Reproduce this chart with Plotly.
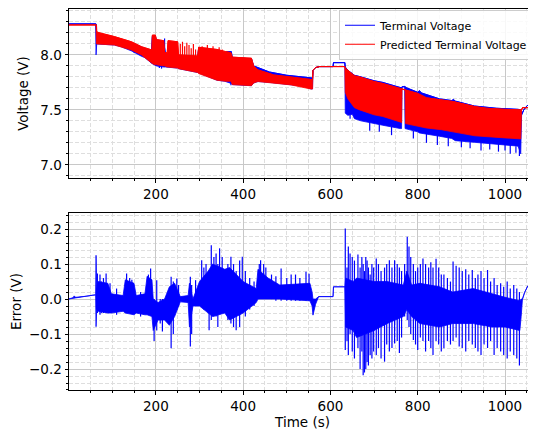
import plotly.graph_objects as go
from plotly.subplots import make_subplots

# Terminal (measured) voltage: envelope of the dense signal (time s, upper V, lower V)
meas_t = [0, 62, 63, 64.5, 80, 105, 120, 145, 166, 175, 190, 192, 199, 201, 218, 222, 250, 252,
          296, 298, 340, 358, 362, 373, 375, 419, 424, 434, 460, 500, 540, 556, 559, 560, 566,
          575, 606, 607, 633, 634, 640, 650, 655, 670, 700, 720, 760, 763, 764, 770, 771, 775,
          800, 804, 808, 850, 878, 882, 886, 930, 980, 1030, 1036, 1038, 1043, 1050, 1055, 1071]
meas_hi = [8.282, 8.282, 8.282, 8.19, 8.17, 8.15, 8.13, 8.11, 8.07, 8.06, 8.03, 8.17, 8.17, 8.13,
           8.12, 8.01, 8.00, 7.99, 7.98, 8.06, 8.04, 8.02, 8.03, 8.03, 7.975, 7.965, 7.90, 7.885,
           7.845, 7.815, 7.80, 7.79, 7.79, 7.86, 7.885, 7.894, 7.894, 7.93, 7.93, 7.89, 7.86, 7.83,
           7.815, 7.80, 7.765, 7.75, 7.705, 7.70, 7.71, 7.715, 7.71, 7.70, 7.66, 7.675, 7.655,
           7.60, 7.585, 7.595, 7.58, 7.535, 7.515, 7.505, 7.50, 7.455, 7.50, 7.535, 7.55, 7.55]
meas_lo = [8.282, 8.282, 8.00, 8.10, 8.10, 8.09, 8.075, 8.035, 7.99, 7.975, 7.925, 7.92, 7.905,
           7.90, 7.89, 7.89, 7.88, 7.875, 7.84, 7.83, 7.77, 7.76, 7.76, 7.74, 7.73, 7.72, 7.745,
           7.758, 7.75, 7.735, 7.715, 7.69, 7.69, 7.86, 7.885, 7.894, 7.894, 7.93, 7.93, 7.47,
           7.45, 7.46, 7.42, 7.40, 7.375, 7.36, 7.33, 7.33, 7.71, 7.715, 7.33, 7.32, 7.30, 7.29,
           7.29, 7.26, 7.24, 7.23, 7.22, 7.205, 7.19, 7.17, 7.10, 7.455, 7.50, 7.535, 7.55, 7.55]

# isolated spikes of the measured voltage (time, top, bottom)
meas_spikes = [
    (150, 8.05, 8.02), (158, 8.04, 8.02), (208, 7.91, 7.88), (213, 7.91, 7.875), (220, 8.15, 7.95),
    (372, 7.76, 7.725), (645, 7.46, 7.42), (690, 7.39, 7.31), (712, 7.37, 7.30), (740, 7.35, 7.27),
    (790, 7.31, 7.24), (820, 7.29, 7.20), (845, 7.27, 7.18), (870, 7.25, 7.17), (900, 7.24, 7.16),
    (920, 7.22, 7.15), (945, 7.21, 7.13), (965, 7.20, 7.14), (985, 7.20, 7.12), (1000, 7.19, 7.13),
    (1012, 7.18, 7.10), (1025, 7.17, 7.11), (1033, 7.17, 7.08),
]

# Predicted terminal voltage envelope
pred_t = [0, 63, 64, 64.5, 72, 105, 144, 167, 191, 192, 199, 201, 218, 220, 226, 228, 250, 252,
          296, 298, 340, 360, 372, 375, 419, 424, 434, 470, 510, 555, 559, 560, 566, 575, 633,
          634, 640, 655, 667, 700, 720, 760, 763, 764, 771, 772, 800, 820, 854, 881, 931, 958,
          1000, 1036, 1038, 1040, 1071]
pred_hi = [8.273, 8.273, 8.273, 8.21, 8.20, 8.167, 8.12, 8.075, 8.045, 8.18, 8.18, 8.14, 8.13,
           8.02, 8.02, 8.13, 8.12, 8.00, 7.99, 8.07, 8.05, 8.03, 8.02, 7.98, 7.97, 7.90, 7.864,
           7.818, 7.80, 7.775, 7.775, 7.86, 7.885, 7.894, 7.894, 7.88, 7.86, 7.81, 7.80, 7.758,
           7.74, 7.697, 7.69, 7.69, 7.68, 7.68, 7.65, 7.61, 7.59, 7.576, 7.53, 7.515, 7.505, 7.50,
           7.50, 7.52, 7.52]
pred_lo = [8.273, 8.273, 8.10, 8.10, 8.10, 8.09, 8.045, 8.00, 7.925, 7.92, 7.91, 7.91, 7.90,
           7.90, 7.89, 7.89, 7.88, 7.875, 7.84, 7.83, 7.77, 7.76, 7.76, 7.73, 7.72, 7.745, 7.758,
           7.742, 7.727, 7.69, 7.69, 7.86, 7.885, 7.894, 7.894, 7.66, 7.60, 7.52, 7.50, 7.455,
           7.44, 7.39, 7.385, 7.69, 7.68, 7.375, 7.35, 7.335, 7.32, 7.30, 7.264, 7.255, 7.245,
           7.236, 7.50, 7.52, 7.52]

pred_spikes = [
    (256, 8.10, 7.95), (261, 8.12, 7.95), (266, 8.08, 7.95), (271, 8.11, 7.94), (276, 8.09, 7.94),
    (281, 8.06, 7.94), (286, 8.10, 7.93), (291, 8.05, 7.93), (306, 8.08, 7.90), (318, 8.09, 7.90),
    (331, 8.08, 7.88), (345, 8.07, 7.86), (352, 8.05, 7.86),
]

# Error envelope
err_t = [0, 10, 13, 16, 40, 55, 62, 63, 64.5, 68, 90, 98, 125, 130, 150, 155, 175, 180, 191, 194,
         205, 220, 231, 243, 256, 274, 277, 285, 300, 320, 330, 358, 369, 400, 430, 434, 457, 484,
         553, 558, 560, 566, 573, 606, 607, 633,
         635, 652, 660, 700, 730, 767, 775, 786, 805, 850, 880, 927, 970, 1000, 1034,
         1037, 1040, 1045, 1052, 1071]
err_hi = [0.0, 0.004, 0.009, 0.005, 0.008, 0.011, 0.012, 0.125, 0.03, 0.05, 0.045, 0.015, 0.01,
          0.055, 0.045, 0.01, 0.015, 0.065, 0.055, 0.0, -0.01, 0.0, 0.035, 0.045, 0.007, 0.01,
          0.045, 0.0, 0.05, 0.08, 0.10, 0.085, 0.09, 0.05, 0.03, 0.085, 0.06, 0.04,
          0.045, 0.02, 0.0, 0.0, 0.007, 0.007, 0.035, 0.035,
          0.06, 0.05, 0.06, 0.05, 0.05, 0.04, 0.08, 0.04, 0.045, 0.035, 0.02, 0.03, 0.015, 0.005,
          -0.005,
          0.0, 0.0, 0.019, 0.037, 0.037]
err_lo = [0.0, 0.004, 0.003, 0.005, 0.008, 0.011, 0.012, -0.079, -0.03, -0.035, -0.04, -0.04,
          -0.035, -0.04, -0.045, -0.04, -0.045, -0.045, -0.05, -0.09, -0.06, -0.06, -0.075, -0.05,
          -0.008, -0.01, -0.08, -0.02, -0.02, -0.04, -0.05, -0.04, -0.06, -0.04, -0.01, 0.0, 0.0,
          0.0, -0.005, -0.02, -0.046, -0.015, 0.007, 0.007, 0.035, 0.035,
          -0.08, -0.09, -0.11, -0.09, -0.07, -0.05, -0.03, -0.05, -0.07, -0.08, -0.07, -0.07,
          -0.08, -0.08, -0.09,
          -0.05, 0.0, 0.019, 0.037, 0.037]

err_spikes = [
    (66, 0.073, -0.04), (72, 0.07, -0.045), (75, 0.05, -0.04), (80, 0.06, -0.04), (86, 0.073, -0.04),
    (95, 0.045, -0.04), (110, 0.03, -0.045), (133, 0.073, -0.04), (140, 0.06, -0.04),
    (145, 0.055, -0.035), (165, 0.02, -0.05), (183, 0.07, -0.045), (188, 0.087, -0.04),
    (196, 0.0, -0.12), (202, 0.054, -0.09), (210, 0.0, -0.07), (215, 0.0, -0.093),
    (235, 0.064, -0.141), (240, 0.05, -0.10), (248, 0.059, -0.03), (252, 0.04, -0.02),
    (279, 0.064, -0.136), (282, 0.04, -0.10), (291, 0.054, -0.02), (305, 0.111, -0.017),
    (310, 0.09, -0.03), (315, 0.10, -0.03), (322, 0.05, -0.089), (327, 0.154, -0.06),
    (333, 0.12, -0.05), (338, 0.13, -0.05), (342, 0.10, -0.08), (346, 0.145, -0.04),
    (352, 0.12, -0.04), (365, 0.10, -0.06), (372, 0.121, -0.07), (378, 0.10, -0.08),
    (384, 0.08, -0.089), (392, 0.11, -0.08), (398, 0.121, -0.04), (405, 0.08, -0.05),
    (415, 0.06, -0.03), (425, 0.05, -0.02), (437, 0.10, 0.0), (440, 0.111, 0.0), (447, 0.10, 0.0),
    (452, 0.09, 0.0), (465, 0.07, 0.0), (475, 0.065, -0.005), (487, 0.087, -0.005),
    (500, 0.06, -0.005), (510, 0.07, -0.005), (520, 0.07, -0.005), (530, 0.06, -0.005),
    (544, 0.078, -0.005), (551, 0.072, -0.005),
    (634, 0.202, -0.146), (638, 0.09, -0.12), (641, 0.15, -0.16), (645, 0.13, -0.10),
    (650, 0.12, -0.15), (655, 0.11, -0.17), (663, 0.127, -0.14), (668, 0.09, -0.20),
    (672, 0.12, -0.15), (675, 0.10, -0.218), (678, 0.08, -0.21), (681, 0.12, -0.20),
    (684, 0.11, -0.18), (687, 0.09, -0.19), (691, 0.07, -0.16), (695, 0.10, -0.17),
    (699, 0.09, -0.15), (705, 0.116, -0.16), (710, 0.10, -0.14), (716, 0.08, -0.17),
    (724, 0.09, -0.179), (729, 0.10, -0.13), (735, 0.111, -0.15), (741, 0.09, -0.14),
    (747, 0.111, -0.127), (753, 0.10, -0.12), (758, 0.09, -0.154), (763, 0.08, -0.11),
    (770, 0.10, -0.05), (776, 0.178, -0.06), (780, 0.15, -0.08), (784, 0.12, -0.10),
    (790, 0.10, -0.117), (795, 0.08, -0.13), (800, 0.09, -0.146), (806, 0.10, -0.11),
    (812, 0.116, -0.12), (818, 0.10, -0.15), (825, 0.09, -0.12), (830, 0.105, -0.14),
    (835, 0.09, -0.16), (842, 0.115, -0.12), (848, 0.09, -0.13), (854, 0.07, -0.15),
    (860, 0.07, -0.141), (868, 0.06, -0.12), (875, 0.05, -0.13), (881, 0.107, -0.12),
    (888, 0.095, -0.11), (895, 0.09, -0.136), (902, 0.08, -0.14), (910, 0.085, -0.15),
    (917, 0.07, -0.12), (925, 0.083, -0.13), (932, 0.06, -0.14), (938, 0.07, -0.15),
    (945, 0.08, -0.16), (952, 0.06, -0.13), (960, 0.083, -0.14), (967, 0.05, -0.12),
    (975, 0.06, -0.16), (982, 0.04, -0.14), (990, 0.045, -0.15), (997, 0.035, -0.16),
    (1005, 0.05, -0.17), (1012, 0.03, -0.15), (1020, 0.04, -0.16), (1027, 0.03, -0.17),
    (1033, 0.02, -0.19),
]

BLUE = "#0000ff"
RED = "#ff0000"
FONT = "DejaVu Sans"


def band(t, hi, lo):
    return list(t) + list(t)[::-1], list(hi) + list(lo)[::-1]


def spikes(rows):
    xs, ys = [], []
    for t, a, b in rows:
        xs += [t, t, None]
        ys += [a, b, None]
    return xs, ys


fig = make_subplots(rows=2, cols=1)

for t, hi, lo, spk, color, name, row in [
    (meas_t, meas_hi, meas_lo, meas_spikes, BLUE, "Terminal Voltage", 1),
    (pred_t, pred_hi, pred_lo, pred_spikes, RED, "Predicted Terminal Voltage", 1),
    (err_t, err_hi, err_lo, err_spikes, BLUE, None, 2),
]:
    bx, by = band(t, hi, lo)
    fig.add_trace(go.Scatter(x=bx, y=by, mode="lines", fill="toself", fillcolor=color,
                             line=dict(color=color, width=0.8), showlegend=False,
                             hoverinfo="skip"), row=row, col=1)
    sx, sy = spikes(spk)
    fig.add_trace(go.Scatter(x=sx, y=sy, mode="lines", line=dict(color=color, width=1.2),
                             showlegend=False, hoverinfo="skip"), row=row, col=1)
    if name:
        fig.add_trace(go.Scatter(x=t, y=hi, mode="lines", name=name,
                                 line=dict(color=color, width=1)), row=row, col=1)

axis_common = dict(
    automargin=False,
    showline=True, linecolor="black", linewidth=1,
    ticks="outside", ticklen=3.5, tickwidth=1, tickcolor="black",
    showgrid=True, gridcolor="#c8c8c8", gridwidth=1, zeroline=False,
    tickfont=dict(family=FONT, size=13.5, color="black"),
)
minor_grid = dict(ticks="outside", ticklen=2, tickcolor="black", showgrid=True,
                  gridcolor="#dedede", griddash="4px,2px", gridwidth=0.8)

for ax in ["xaxis", "xaxis2"]:
    fig.layout[ax].update(axis_common, range=[1, 1071], tick0=0, dtick=200, mirror=True,
                          minor=dict(minor_grid, dtick=50, tick0=0))
fig.layout.xaxis2.update(title=dict(text="Time (s)", standoff=3,
                                    font=dict(family=FONT, size=13.5, color="black")))

# the page body adds an 8 px offset, so the figure is laid out 8 px smaller
fig.layout.yaxis.update(axis_common, range=[6.88, 8.418], tick0=0, dtick=0.5, tickformat=".1f",
                        domain=[0.5564, 1.0], minor=dict(minor_grid, dtick=0.1, tick0=0),
                        title=dict(text="Voltage (V)", standoff=8,
                                   font=dict(family=FONT, size=13.5, color="black")))
fig.layout.yaxis2.update(axis_common, range=[-0.26, 0.246], tick0=0, dtick=0.1, tickformat=".1f",
                         domain=[0.0, 0.4646], minor=dict(minor_grid, dtick=0.02, tick0=0),
                         title=dict(text="Error (V)", standoff=7,
                                    font=dict(family=FONT, size=13.5, color="black")))

fig.update_layout(
    width=528, height=428,
    margin=dict(l=61, r=0, t=1, b=46),
    paper_bgcolor="white", plot_bgcolor="white",
    font=dict(family=FONT, size=13.5, color="black"),
    legend=dict(x=0.9936, y=0.998, xanchor="right", yanchor="top",
                bgcolor="rgba(255,255,255,0.85)", bordercolor="#cccccc", borderwidth=1,
                font=dict(family=FONT, size=11, color="black"), itemwidth=30,
                tracegroupgap=0),
    showlegend=True,
)

fig.write_html("out.html")
